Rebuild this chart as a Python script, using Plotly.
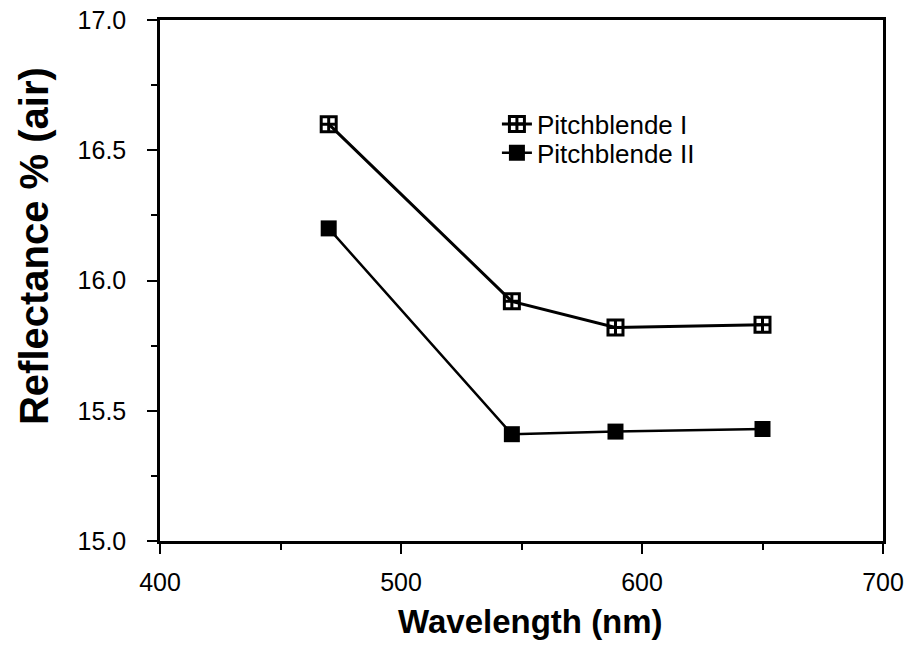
import plotly.graph_objects as go

wavelength = [470, 546, 589, 650]
pitchblende_1 = [16.60, 15.92, 15.82, 15.83]
pitchblende_2 = [16.20, 15.41, 15.42, 15.43]
x_ticks = [400, 500, 600, 700]
y_ticks = [15.0, 15.5, 16.0, 16.5, 17.0]
y_tick_labels = ["15.0", "15.5", "16.0", "16.5", "17.0"]

FONT = "Liberation Sans, Arial, sans-serif"
NARROW = "Liberation Sans Narrow, Liberation Sans, Arial, sans-serif"

fig = go.Figure()
fig.add_trace(go.Scatter(
    x=wavelength, y=pitchblende_1, mode="lines+markers", name="Pitchblende I",
    line=dict(color="black", width=3),
    marker=dict(symbol="square-cross-open", size=15, color="black", line=dict(width=3)),
    legend="legend",
))
fig.add_trace(go.Scatter(
    x=wavelength, y=pitchblende_2, mode="lines+markers", name="Pitchblende II",
    line=dict(color="black", width=2.5),
    marker=dict(symbol="square", size=16, color="black"),
    legend="legend2",
))

axis_common = dict(
    showline=True, linecolor="black", linewidth=2.5, mirror=True,
    ticks="outside", tickcolor="black", tickwidth=2, ticklen=10,
    showgrid=False, zeroline=False, automargin=False,
    ticklabeloverflow="allow",
    tickfont=dict(family=NARROW, size=25, color="black"),
)

legend_common = dict(xanchor="left", yanchor="middle",
                     font=dict(family=FONT, size=26, color="black"),
                     bgcolor="rgba(0,0,0,0)", borderwidth=0)

fig.update_layout(
    width=916, height=646,
    margin=dict(l=160, r=33, t=20, b=105),
    paper_bgcolor="white", plot_bgcolor="white",
    showlegend=True,
    legend=dict(x=0.466, y=0.80, **legend_common),
    legend2=dict(x=0.466, y=0.745, **legend_common),
    xaxis=dict(range=[400, 700], tickvals=x_ticks,
               minor=dict(dtick=50, ticks="outside", ticklen=6, tickwidth=2, tickcolor="black"),
               ticklabelstandoff=7,
               **axis_common),
    yaxis=dict(range=[15.0, 17.0], tickvals=y_ticks, ticktext=y_tick_labels,
               minor=dict(dtick=0.25, ticks="outside", ticklen=6, tickwidth=2, tickcolor="black"),
               ticklabelstandoff=16,
               **axis_common),
    annotations=[
        dict(text="<b>Wavelength (nm)</b>", xref="paper", yref="paper", x=0.513, y=-0.155,
             xanchor="center", yanchor="middle", showarrow=False,
             font=dict(family=FONT, size=33, color="black")),
        dict(text="<b>Reflectance % (air)</b>", xref="paper", yref="paper", x=-0.175, y=0.567,
             xanchor="center", yanchor="middle", textangle=-90, showarrow=False,
             font=dict(family=FONT, size=40, color="black")),
    ],
)

fig.write_html("out.html", config={"displayModeBar": False},
               post_script="document.body.style.margin='0';")
